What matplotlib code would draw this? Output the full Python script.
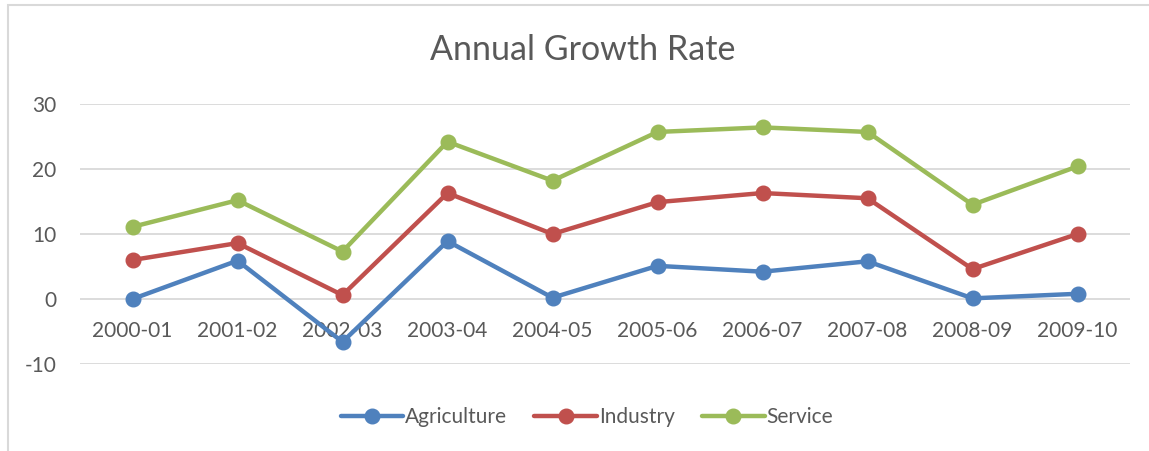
import matplotlib.pyplot as plt
from matplotlib.patches import Rectangle

years = ['2000-01', '2001-02', '2002-03', '2003-04', '2004-05',
         '2005-06', '2006-07', '2007-08', '2008-09', '2009-10']
agriculture = [0.0, 5.9, -6.6, 8.9, 0.2, 5.1, 4.2, 5.8, 0.1, 0.8]
industry = [6.0, 8.6, 0.6, 16.3, 10.0, 14.9, 16.3, 15.5, 4.6, 10.0]
service = [11.1, 15.2, 7.3, 24.2, 18.2, 25.7, 26.4, 25.7, 14.5, 20.4]

W, H = 1149, 451
plt.rcParams['font.family'] = ['Lato', 'DejaVu Sans']
plt.rcParams['axes.unicode_minus'] = False
fig = plt.figure(figsize=(W / 100, H / 100), dpi=100)
text_color = '#595959'

# light frame like the Excel chart area (right/bottom cut off)
fig.patches.append(Rectangle((8 / W, -0.1), 1.2, (H - 5) / H + 0.1,
                             transform=fig.transFigure, fill=False,
                             edgecolor='#d9d9d9', linewidth=1.5))

ax = fig.add_axes([80 / W, 1 - 364 / H, 1050 / W, 260 / H])
x = range(len(years))
series = [('Agriculture', agriculture, '#4f81bd'),
          ('Industry', industry, '#c0504d'),
          ('Service', service, '#9bbb59')]
for name, vals, col in series:
    ax.plot(x, vals, color=col, linewidth=3.2, marker='o', markersize=10.5,
            label=name, solid_capstyle='round', zorder=3)

ax.set_xlim(-0.5, len(years) - 0.5)
ax.set_ylim(-10, 30)
ax.set_yticks([-10, 0, 10, 20, 30])
ax.grid(axis='y', color='#d9d9d9', linewidth=1.3)
ax.set_axisbelow(True)
for s in ax.spines.values():
    s.set_visible(False)
ax.spines['bottom'].set_position(('data', 0))
ax.set_xticks(list(x))
ax.set_xticklabels(years)
ax.tick_params(axis='x', length=0, pad=16, labelsize=15, labelcolor=text_color)
ax.tick_params(axis='y', length=0, pad=17, labelsize=15, labelcolor=text_color)

fig.text(583 / W, 1 - 50 / H, 'Annual Growth Rate', ha='center', va='center',
         fontsize=24.5, color=text_color)

leg = ax.legend(loc='center', bbox_to_anchor=(587 / W, 1 - 417 / H),
                bbox_transform=fig.transFigure, ncol=3, frameon=False,
                fontsize=15, handlelength=3, handletextpad=0.1,
                columnspacing=1.3, labelcolor=text_color)

fig.savefig('out.png', dpi=100)
